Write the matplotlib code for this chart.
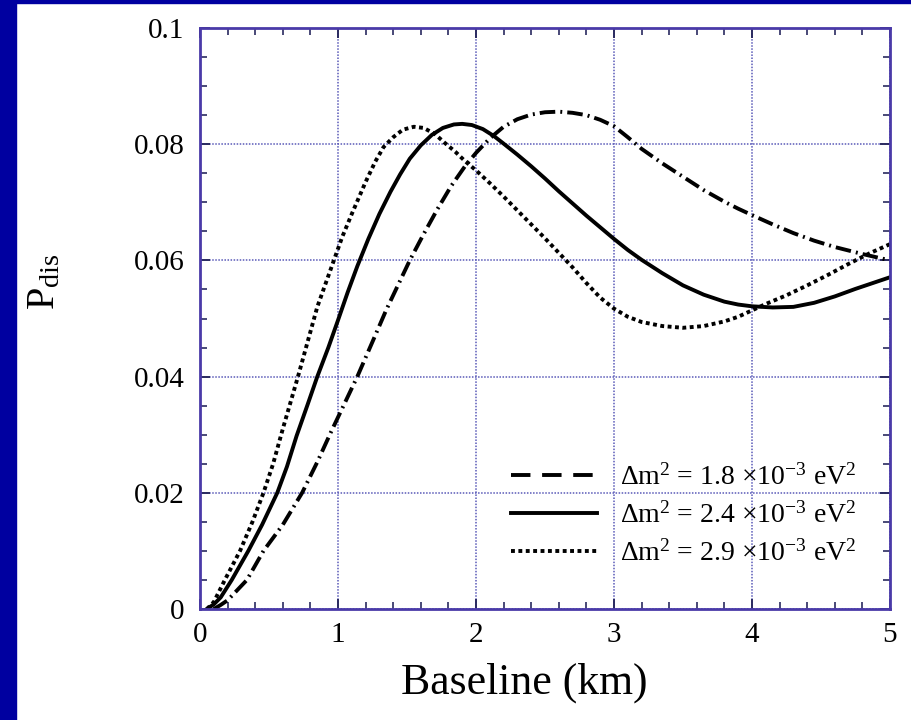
import matplotlib
matplotlib.use("Agg")
import matplotlib.pyplot as plt
from matplotlib.lines import Line2D
from matplotlib.patches import Rectangle
from matplotlib.ticker import MultipleLocator, FixedFormatter, FixedLocator

plt.rcParams['font.family'] = ['Liberation Serif', 'DejaVu Serif']
plt.rcParams['mathtext.fontset'] = 'custom'
plt.rcParams['mathtext.rm'] = 'Liberation Serif'
plt.rcParams['mathtext.it'] = 'Liberation Serif:italic'
plt.rcParams['mathtext.bf'] = 'Liberation Serif:bold'

# ---- data ----
L_18 = [0.1, 0.15, 0.2, 0.34, 0.46, 0.6, 0.74, 0.85, 0.95, 1.05, 1.14, 1.25, 1.35, 1.45, 1.52, 1.62, 1.72,
        1.82, 1.92, 2.0, 2.1, 2.2, 2.3, 2.4, 2.5, 2.6, 2.7, 2.8, 2.9, 3.0, 3.1, 3.2, 3.35, 3.5, 3.65, 3.8,
        3.9, 4.0, 4.15, 4.3, 4.45, 4.6, 4.8, 5.0]
P_18 = [0.0, 0.0007, 0.0015, 0.005, 0.010, 0.0145, 0.020, 0.0253, 0.0305, 0.0355, 0.040, 0.046, 0.0515, 0.0565,
        0.060, 0.0645, 0.0688, 0.0728, 0.0762, 0.0785, 0.0810, 0.0830, 0.0843, 0.0851, 0.0855, 0.0856, 0.0854,
        0.0850, 0.0842, 0.0831, 0.0812, 0.0792, 0.0767, 0.0744, 0.0721, 0.0701, 0.0689, 0.0678, 0.0662, 0.0647,
        0.0634, 0.0623, 0.0611, 0.0600]

L_24 = [0.05, 0.1, 0.15, 0.23, 0.35, 0.45, 0.5, 0.56, 0.63, 0.7, 0.78, 0.85, 0.93, 1.0, 1.07, 1.14, 1.22, 1.3,
        1.38, 1.45, 1.52, 1.6, 1.68, 1.76, 1.84, 1.9, 1.97, 2.05, 2.13, 2.2, 2.3, 2.4, 2.5, 2.6, 2.7, 2.8, 2.9,
        3.0, 3.1, 3.2, 3.35, 3.5, 3.65, 3.8, 3.9, 4.0, 4.15, 4.3, 4.45, 4.6, 4.75, 4.9, 5.0]
P_24 = [0.0, 0.0008, 0.002, 0.005, 0.010, 0.0145, 0.017, 0.020, 0.0245, 0.0298, 0.0352, 0.040, 0.045, 0.0497,
        0.0545, 0.059, 0.0637, 0.068, 0.0718, 0.0748, 0.0775, 0.0798, 0.0816, 0.0828, 0.0834, 0.0835, 0.0833,
        0.0826, 0.0814, 0.0801, 0.0782, 0.0762, 0.0741, 0.0719, 0.0698, 0.0677, 0.0657, 0.0637, 0.0618, 0.0601,
        0.0578, 0.0557, 0.0541, 0.0529, 0.0524, 0.0521, 0.0519, 0.0520, 0.0527, 0.0538, 0.0551, 0.0563, 0.0571]

L_29 = [0.05, 0.1, 0.18, 0.29, 0.38, 0.46, 0.53, 0.6, 0.71, 0.78, 0.85, 0.91, 0.97, 1.03, 1.1, 1.2, 1.27, 1.33,
        1.4, 1.47, 1.55, 1.62, 1.7, 1.77, 1.85, 1.92, 2.0, 2.1, 2.2, 2.3, 2.4, 2.5, 2.6, 2.7, 2.8, 2.9, 3.0,
        3.1, 3.2, 3.35, 3.5, 3.65, 3.8, 3.9, 4.0, 4.1, 4.25, 4.4, 4.55, 4.7, 4.85, 5.0]
P_29 = [0.0, 0.0012, 0.005, 0.010, 0.015, 0.020, 0.025, 0.031, 0.040, 0.046, 0.052, 0.056, 0.060, 0.064, 0.068,
        0.0735, 0.077, 0.0795, 0.0812, 0.0825, 0.0830, 0.0828, 0.0818, 0.0803, 0.0787, 0.0771, 0.0755, 0.0733,
        0.071, 0.0686, 0.0662, 0.0638, 0.0613, 0.0588, 0.0561, 0.0536, 0.0517, 0.0503, 0.0494, 0.0487, 0.0484,
        0.0487, 0.0495, 0.0503, 0.0514, 0.0525, 0.054, 0.0557, 0.0575, 0.0594, 0.0612, 0.0628]

labels = ['Δm$^2$ = 1.8 ×10$^{-3}$ eV$^2$',
          'Δm$^2$ = 2.4 ×10$^{-3}$ eV$^2$',
          'Δm$^2$ = 2.9 ×10$^{-3}$ eV$^2$']
xticks = [0, 1, 2, 3, 4, 5]
xticklabels = ['0', '1', '2', '3', '4', '5']
yticks = [0, 0.02, 0.04, 0.06, 0.08, 0.1]
yticklabels = ['0', '0.02', '0.04', '0.06', '0.08', '0.1']

W, H = 912, 720
fig = plt.figure(figsize=(W / 100, H / 100), dpi=100, facecolor='white')
blue = '#0000a0'
fig.patches.append(Rectangle((0, 0), 16 / W, 1, transform=fig.transFigure, color=blue, zorder=0))
fig.patches.append(Rectangle((0, 1 - 3 / H), 1, 3 / H, transform=fig.transFigure, color=blue, zorder=0))

ax = fig.add_axes([200 / W, 1 - 609 / H, 690 / W, 581 / H])
ax.set_xlim(0, 5)
ax.set_ylim(0, 0.1)

lw = 2.8
ax.plot(L_18, P_18, color='black', lw=lw, dashes=(4.0, 1.3, 0.5, 1.3))
ax.plot(L_24, P_24, color='black', lw=lw)
ax.plot(L_29, P_29, color='black', lw=lw, dashes=(1.0, 0.9))

frame = '#4a3aa8'
for s in ax.spines.values():
    s.set_color(frame)
    s.set_linewidth(2.0)

ax.xaxis.set_major_locator(FixedLocator(xticks))
ax.xaxis.set_major_formatter(FixedFormatter(xticklabels))
ax.yaxis.set_major_locator(FixedLocator(yticks))
ax.yaxis.set_major_formatter(FixedFormatter(yticklabels))
ax.xaxis.set_minor_locator(MultipleLocator(0.2))
ax.yaxis.set_minor_locator(MultipleLocator(0.005))
ax.tick_params(which='both', direction='in', top=True, right=True, color='#2a2a60')
ax.tick_params(which='major', length=7, width=1.4, labelsize=21, pad=9)
ax.tick_params(which='minor', length=5, width=1.2)
ax.tick_params(axis='y', which='major', pad=11)
ax.grid(True, which='major', color='#5a5ab8', linestyle=(0, (1, 1)), linewidth=1.1)

fig.text(524 / W, 1 - 683 / H, 'Baseline (km)', fontsize=31.5, ha='center', va='center')
fig.text(45 / W, 1 - 282 / H, r'$\mathrm{P}_{\mathrm{dis}}$', fontsize=29, rotation=90, ha='center', va='center')

handles = [Line2D([], [], color='black', lw=lw, dashes=(5.0, 3.0)),
           Line2D([], [], color='black', lw=lw),
           Line2D([], [], color='black', lw=lw, dashes=(1.0, 0.9))]
leg = ax.legend(handles, labels, loc='lower right', bbox_to_anchor=(0.979, 0.04), frameon=False,
                fontsize=20, handlelength=3.1, handletextpad=0.8, labelspacing=0.4, borderpad=0.2)

fig.savefig('out.png', dpi=100, facecolor='white')
